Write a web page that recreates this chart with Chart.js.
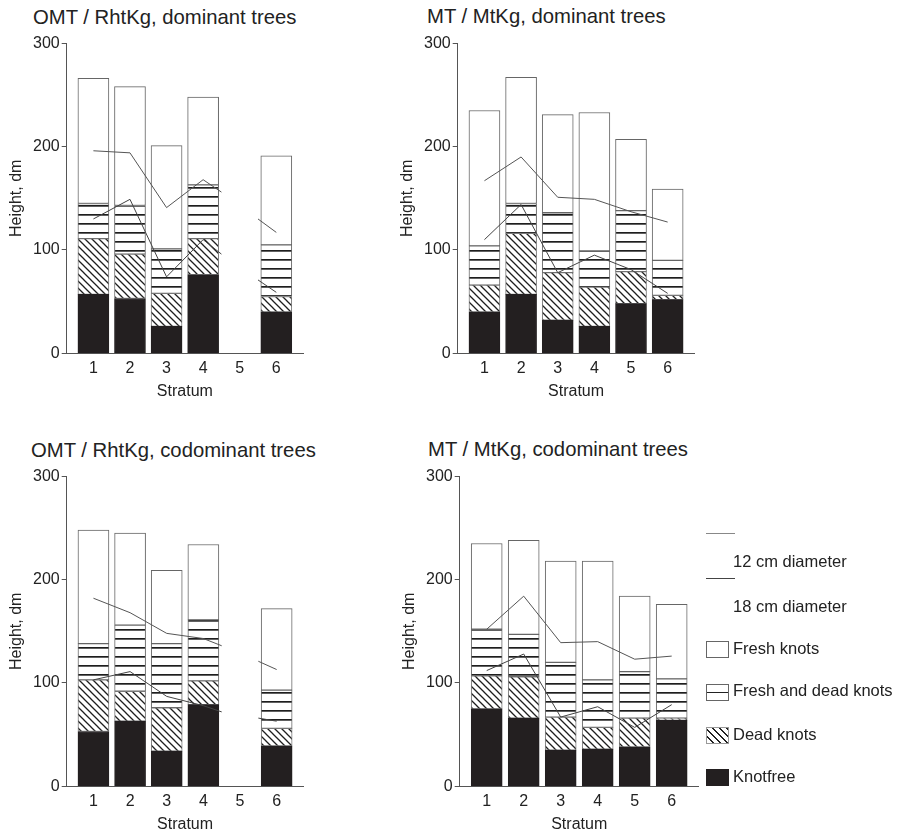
<!DOCTYPE html>
<html>
<head>
<meta charset="utf-8">
<script src="https://cdn.jsdelivr.net/npm/chart.js@4.4.1/dist/chart.umd.min.js"></script>
<style>
  html, body { margin: 0; padding: 0; background: #fff; }
  body { width: 899px; height: 834px; overflow: hidden; position: relative; font-family: 'Liberation Sans', Arial, sans-serif; color: #222; }
  canvas { position: absolute; }
  .ptitle { position: absolute; font-size: 20.3px; line-height: 24px; white-space: nowrap; }
  .leg { position: absolute; font-size: 16.5px; line-height: 20px; white-space: nowrap; z-index: 2; }
  .legline { position: absolute; left: 706px; width: 29px; height: 1px; z-index: 2; }
  .legbox { position: absolute; left: 706px; width: 21px; height: 15px; border: 1px solid #666; z-index: 2; }
</style>
</head>
<body>
<div class="ptitle" style="left:33px;top:5px">OMT / RhtKg, dominant trees</div>
<div class="ptitle" style="left:427px;top:4px">MT / MtKg, dominant trees</div>
<div class="ptitle" style="left:31px;top:438px">OMT / RhtKg, codominant trees</div>
<div class="ptitle" style="left:428px;top:437px">MT / MtKg, codominant trees</div>

<div class="legline" style="top:533px;background:#888"></div>
<div class="leg" style="left:733px;top:551px">12 cm diameter</div>
<div class="legline" style="top:578px;background:#444"></div>
<div class="leg" style="left:733px;top:596px">18 cm diameter</div>
<div class="legbox" style="top:641px;background:#fff"></div>
<div class="leg" style="left:733px;top:638px">Fresh knots</div>
<div class="legbox" style="top:684px;background:linear-gradient(to bottom,#fff 0 6.5px,#222 6.5px 8px,#fff 8px)"></div>
<div class="leg" style="left:733px;top:680px">Fresh and dead knots</div>
<div class="legbox" style="top:727px;border-color:#999;background:repeating-linear-gradient(45deg,#fff 0 3.6px,#222 3.6px 4.95px)"></div>
<div class="leg" style="left:733px;top:724px">Dead knots</div>
<div class="legbox" style="top:769px;border-color:#231f20;background:#231f20"></div>
<div class="leg" style="left:733px;top:766px">Knotfree</div>

<script>
const strata = [1, 2, 3, 4, 5, 6];
const omtLineX = [1, 2, 3, 4, 4.5, 5, 5.5, 6];
const mtLineX = [1, 2, 3, 4, 5, 6];
const yTicks = [0, 100, 200, 300];

// OMT / RhtKg, dominant trees (no stratum 5)
const omtDomKnotfree = [57, 53, 26, 76, null, 40];
const omtDomDead = [54, 43, 32, 35, null, 15];
const omtDomFreshDead = [34, 47, 43, 52, null, 50];
const omtDomFresh = [121, 115, 100, 85, null, 86];
const omtDom12 = [196, 194, 141, 168, 156, null, 130, 117];
const omtDom18 = [130, 149, 74, 110, 96, null, 71, 59];

// MT / MtKg, dominant trees
const mtDomKnotfree = [40, 57, 32, 26, 48, 52];
const mtDomDead = [26, 59, 46, 38, 31, 4];
const mtDomFreshDead = [38, 29, 58, 35, 59, 34];
const mtDomFresh = [131, 122, 95, 134, 69, 69];
const mtDom12 = [167, 190, 151, 149, 137, 127];
const mtDom18 = [110, 144, 78, 95, 81, 58];

// OMT / RhtKg, codominant trees
const omtCodKnotfree = [53, 63, 34, 79, null, 39];
const omtCodDead = [50, 29, 42, 23, null, 17];
const omtCodFreshDead = [35, 64, 62, 59, null, 37];
const omtCodFresh = [110, 89, 71, 73, null, 79];
const omtCod12 = [182, 168, 148, 143, 136, null, 121, 113];
const omtCod18 = [103, 111, 87, 78, 72, null, 66, 63];

// MT / MtKg, codominant trees
const mtCodKnotfree = [75, 66, 35, 36, 38, 64];
const mtCodDead = [32, 40, 32, 21, 28, 2];
const mtCodFreshDead = [45, 41, 53, 46, 45, 38];
const mtCodFresh = [83, 91, 98, 115, 73, 72];
const mtCod12 = [152, 184, 139, 140, 123, 126];
const mtCod18 = [112, 128, 67, 77, 57, 79];

const FONT = "'Liberation Sans', Arial, sans-serif";
const INK = '#222';
const AXIS = '#555';

function hlinePattern(ctx) {
  const c = document.createElement('canvas');
  c.width = 8; c.height = 9;
  const g = c.getContext('2d');
  g.fillStyle = '#fff'; g.fillRect(0, 0, 8, 9);
  g.fillStyle = '#1e1e1e'; g.fillRect(0, 7, 8, 1.7);
  return ctx.createPattern(c, 'repeat');
}

function hatchPattern(ctx) {
  const s = 7;
  const c = document.createElement('canvas');
  c.width = s; c.height = s;
  const g = c.getContext('2d');
  g.fillStyle = '#fff'; g.fillRect(0, 0, s, s);
  g.strokeStyle = '#1e1e1e'; g.lineWidth = 1.3;
  g.beginPath();
  g.moveTo(-1, -1); g.lineTo(s + 1, s + 1);
  g.moveTo(-1, s - 1); g.lineTo(1, s + 1);
  g.moveTo(s - 1, -1); g.lineTo(s + 1, 1);
  g.stroke();
  return ctx.createPattern(c, 'repeat');
}

const pts = (xs, ys) => xs.map((x, i) => ({ x: x, y: ys[i] }));

function makePanel(p) {
  const canvas = document.createElement('canvas');
  canvas.width = 420;
  canvas.height = 410;
  canvas.style.left = p.left + 'px';
  canvas.style.top = p.top + 'px';
  document.body.appendChild(canvas);
  const ctx = canvas.getContext('2d');

  const bar = (label, ys, fill, border) => ({
    type: 'bar', label: label, data: pts(strata, ys),
    backgroundColor: fill, borderColor: border, borderWidth: 1, borderSkipped: false,
    stack: 'knots', order: 2, barThickness: 31
  });
  const line = (label, xs, ys, color) => ({
    type: 'line', label: label, data: pts(xs, ys),
    borderColor: color, borderWidth: 1, pointRadius: 0, fill: false,
    tension: 0, spanGaps: false, order: 1
  });

  new Chart(canvas, {
    type: 'bar',
    data: {
      datasets: [
        bar('Knotfree', p.knotfree, '#231f20', '#231f20'),
        bar('Dead knots', p.dead, hatchPattern(ctx), '#777'),
        bar('Fresh and dead knots', p.freshDead, hlinePattern(ctx), '#666'),
        bar('Fresh knots', p.fresh, '#fff', '#666'),
        line('12 cm diameter', p.lineX, p.d12, '#555'),
        line('18 cm diameter', p.lineX, p.d18, '#444')
      ]
    },
    options: {
      responsive: false,
      animation: false,
      layout: { padding: { left: 0, top: 43.3, right: 420 - 66.7 - p.width, bottom: 0 } },
      plugins: { legend: { display: false }, tooltip: { enabled: false }, title: { display: false } },
      scales: {
        x: {
          type: 'linear', min: 0.27, max: 6.73, bounds: 'data', offset: false,
          afterBuildTicks: s => { s.ticks = strata.map(v => ({ value: v })); },
          ticks: {
            color: INK, padding: 6,
            font: { family: FONT, size: 16 },
            callback: v => String(v)
          },
          grid: { drawOnChartArea: false, drawTicks: false, offset: false },
          border: { color: AXIS, width: 1 },
          title: { display: true, text: 'Stratum', color: INK, font: { family: FONT, size: 16 }, padding: { top: 0, bottom: 8.5 } },
          afterFit: s => { s.height = 56.7; }
        },
        y: {
          min: 0, max: 300,
          afterBuildTicks: s => { s.ticks = yTicks.map(v => ({ value: v })); },
          ticks: { color: INK, padding: 2, font: { family: FONT, size: 16 } },
          grid: { drawOnChartArea: false, drawTicks: true, tickLength: 5, color: AXIS },
          border: { color: AXIS, width: 1 },
          title: { display: true, text: 'Height, dm', color: INK, font: { family: FONT, size: 16 }, padding: { top: 7, bottom: 0 } },
          afterFit: s => { s.width = 66.7; }
        }
      }
    }
  });
}

makePanel({ left: 0, top: 0, width: 236.3, lineX: omtLineX,
  knotfree: omtDomKnotfree, dead: omtDomDead, freshDead: omtDomFreshDead, fresh: omtDomFresh, d12: omtDom12, d18: omtDom18 });
makePanel({ left: 390.6, top: 0, width: 236.7, lineX: mtLineX,
  knotfree: mtDomKnotfree, dead: mtDomDead, freshDead: mtDomFreshDead, fresh: mtDomFresh, d12: mtDom12, d18: mtDom18 });
makePanel({ left: 0, top: 432.7, width: 236.7, lineX: omtLineX,
  knotfree: omtCodKnotfree, dead: omtCodDead, freshDead: omtCodFreshDead, fresh: omtCodFresh, d12: omtCod12, d18: omtCod18 });
makePanel({ left: 392.6, top: 432.7, width: 239, lineX: mtLineX,
  knotfree: mtCodKnotfree, dead: mtCodDead, freshDead: mtCodFreshDead, fresh: mtCodFresh, d12: mtCod12, d18: mtCod18 });
</script>
</body>
</html>
